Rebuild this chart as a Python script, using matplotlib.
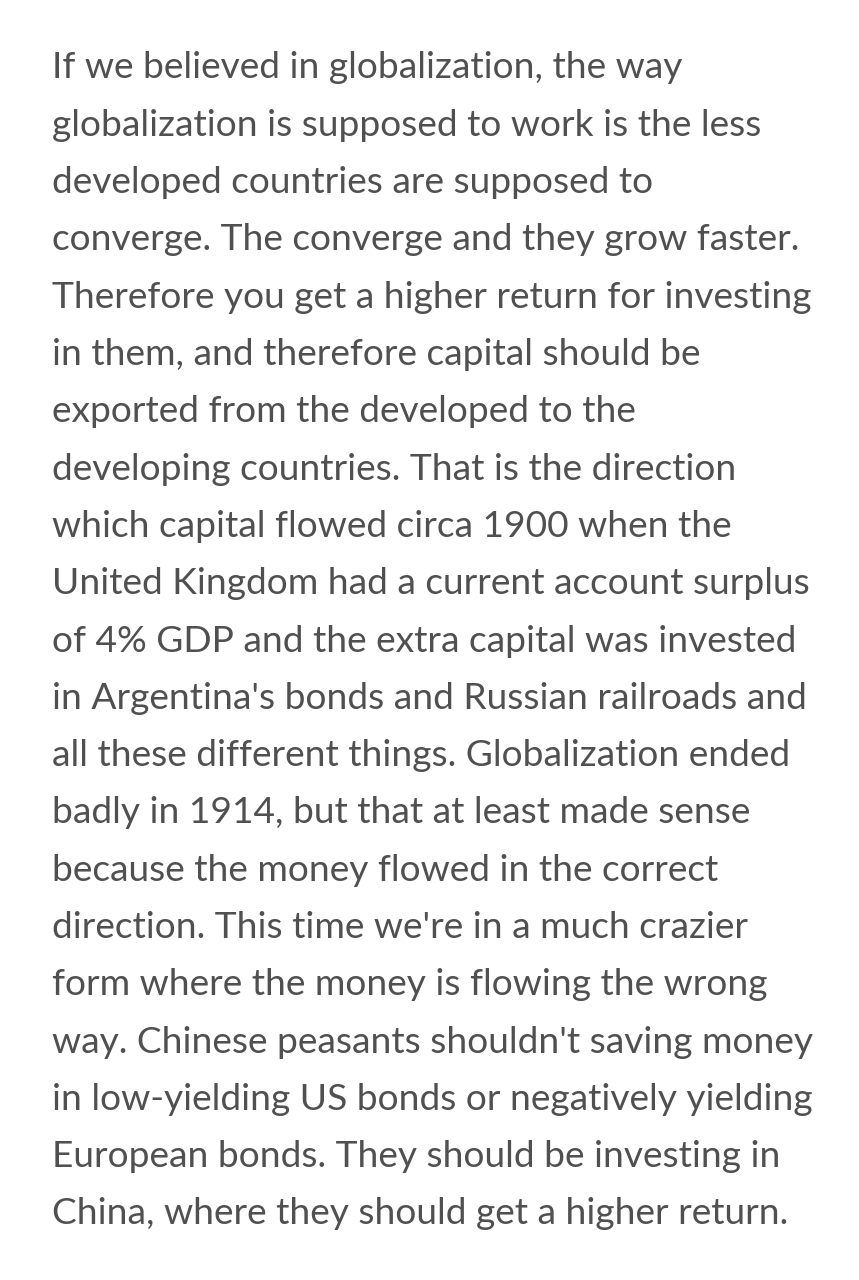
import matplotlib
matplotlib.use("Agg")
from matplotlib import pyplot as plt

lines = [
    "If we believed in globalization, the way",
    "globalization is supposed to work is the less",
    "developed countries are supposed to",
    "converge. The converge and they grow faster.",
    "Therefore you get a higher return for investing",
    "in them, and therefore capital should be",
    "exported from the developed to the",
    "developing countries. That is the direction",
    "which capital flowed circa 1900 when the",
    "United Kingdom had a current account surplus",
    "of 4% GDP and the extra capital was invested",
    "in Argentina's bonds and Russian railroads and",
    "all these different things. Globalization ended",
    "badly in 1914, but that at least made sense",
    "because the money flowed in the correct",
    "direction. This time we're in a much crazier",
    "form where the money is flowing the wrong",
    "way. Chinese peasants shouldn't saving money",
    "in low-yielding US bonds or negatively yielding",
    "European bonds. They should be investing in",
    "China, where they should get a higher return.",
]

fig = plt.figure(figsize=(8.59, 12.8), dpi=100)
fig.patch.set_facecolor("white")
ax = fig.add_axes([0, 0, 1, 1])
ax.set_xlim(0, 859)
ax.set_ylim(1280, 0)
ax.axis("off")

for i, line in enumerate(lines):
    ax.text(52, 68 + i * 57.3, line, fontsize=26.7, family="Lato",
            fontweight="normal", color="#505050", va="center", ha="left")

fig.savefig("out.png", dpi=100)
